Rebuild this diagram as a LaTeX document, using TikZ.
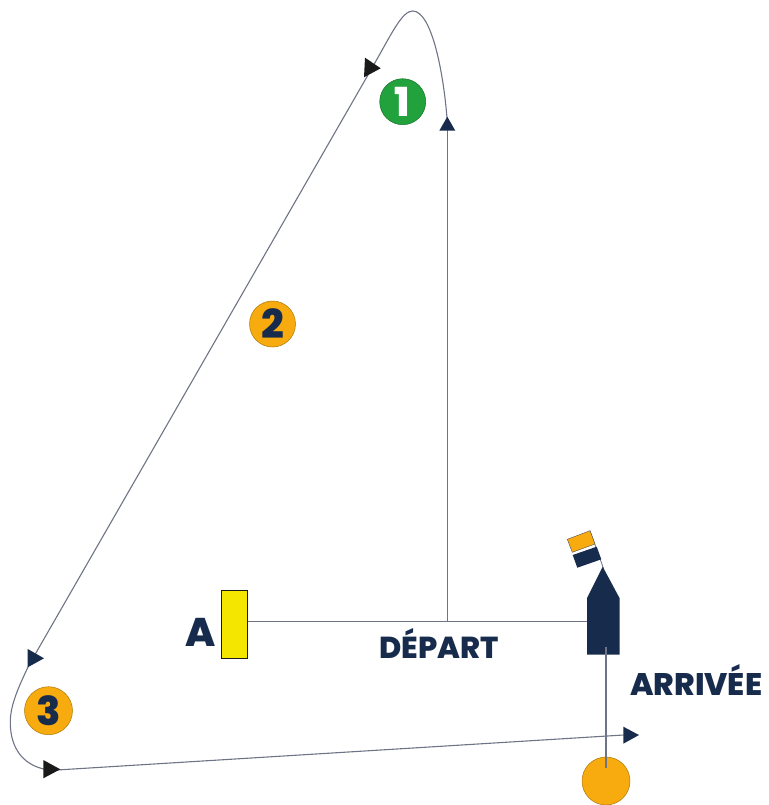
\documentclass[tikz,border=0pt]{standalone}
\usepackage{fontspec}
\setmainfont{Poppins}[BoldFont={Poppins ExtraBold}]
\definecolor{navy}{HTML}{172B4D}
\definecolor{amber}{HTML}{F7AB0F}
\definecolor{leaf}{HTML}{22A23C}
\definecolor{lemon}{HTML}{F5E600}
\definecolor{wire}{HTML}{6E7486}
\definecolor{ink}{HTML}{1A1A1A}
\tikzset{
  course/.style={draw=wire,line width=1.1pt},
  tipnavy/.style={fill=navy,draw=none},
  tipblack/.style={fill=ink,draw=none},
  buoy/.style={circle,inner sep=0pt,minimum size=46pt,draw=#1!70!black,line width=0.5pt,font=\bfseries\fontsize{40}{40}\selectfont},
  label/.style={inner sep=0pt,anchor=base west,text=navy,font=\bfseries\fontsize{#1}{#1}\selectfont}
}
\begin{document}
\begin{tikzpicture}[x=1pt,y=-1pt]
\useasboundingbox (0,0) rectangle (768,805);
% free ends
\coordinate (start) at (447.3,621.7);
\coordinate (up) at (447.3,122);
\coordinate (boatL) at (587,621.7);
\coordinate (finish) at (623.5,735);
\coordinate (turn3) at (52,770.3);
\coordinate (inboat) at (606,646.7);
\coordinate (leg1) at (372,68);
\coordinate (leg2) at (29,665);
% marks
\node[buoy=leaf,fill=leaf,text=white] (m1) at (402.7,101.7) {1};
\node[buoy=amber,fill=amber,text=navy] (m2) at (272.5,324) {2};
\node[buoy=amber,fill=amber,text=navy,minimum size=48pt] (m3) at (48.5,710.7) {3};
\node[circle,inner sep=0pt,minimum size=48pt,fill=amber,draw=amber!70!black,line width=0.5pt] (endbuoy) at (606,781) {};
\node[rectangle,inner sep=0pt,minimum width=26.5pt,minimum height=68pt,fill=lemon,draw=ink,line width=0.7pt] (rectA) at (234.3,624.3) {};
% boat and flag
\draw[wire,line width=0.8pt] (590,530.7) -- (603.5,568.5);
\fill[navy] (587,654.7) -- (587,598) -- (602.7,566.7) -- (619.5,598) -- (619.5,654.7) -- cycle;
\fill[amber,draw=wire!70!black,line width=0.4pt] (567.3,539.3) -- (590,530.7) -- (595,544) -- (572.3,552.3) -- cycle;
\fill[navy] (572.7,555) -- (596.7,546.7) -- (601.3,559.3) -- (577.3,567.7) -- cycle;
% course
\draw[course] (rectA.east |- start) -- (boatL);
\draw[course] (start) -- (up);
\draw[course] (447.3,122) .. controls (444,75) and (432,11) .. (412.7,11)
  .. controls (402,11) and (392,33) .. (leg1)
  -- (leg2) .. controls (17,690) and (10,707) .. (10.3,723)
  .. controls (10.5,750) and (25,768) .. (turn3)
  -- (finish);
\draw[course] (inboat) -- (endbuoy.center |- 0,768);
% arrowheads
\fill[tipnavy] (447.3,116.7) -- (455.3,130.7) -- (439.3,130.7) -- cycle;
\fill[tipblack] (365,57.7) -- (380.7,68.3) -- (364,77.3) -- cycle;
\fill[tipnavy] (27.7,649) -- (44,658.3) -- (27.7,667.3) -- cycle;
\fill[tipblack] (43.3,760) -- (60.3,769.3) -- (43.3,778.3) -- cycle;
\fill[tipnavy] (623.3,726.7) -- (639,735) -- (623.3,743.7) -- cycle;
% labels
\node[label=40] (tA) at (185,646) {A};
\node[label=30.3] (tD) at (379,658) {DÉPART};
\node[label=31.2] (tR) at (630,695) {ARRIVÉE};
\end{tikzpicture}
\end{document}
